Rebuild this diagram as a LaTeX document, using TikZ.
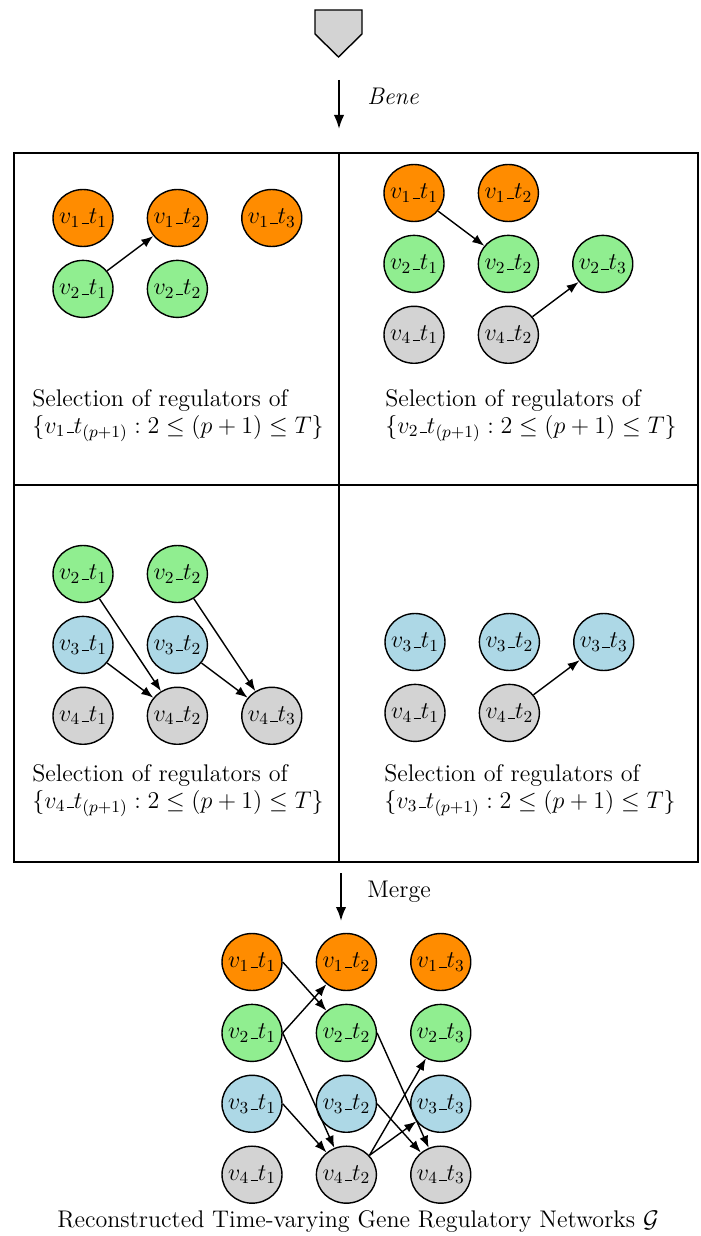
\RequirePackage{fix-cm}
\documentclass[tikz,border=0pt]{standalone}
\usetikzlibrary{arrows.meta, positioning, shapes.geometric}
\definecolor{vorange}{HTML}{FF8C00}
\definecolor{vgreen}{HTML}{90EE90}
\definecolor{vblue}{HTML}{ADD8E6}
\definecolor{vgray}{HTML}{D3D3D3}
\newcommand{\usc}{\kern.06em\vbox{\hrule width .3em}}
\newcommand{\vtlab}[2]{\makebox[0pt]{$v_{#1}\usc t_{#2}$}}

\begin{document}
\begin{tikzpicture}[x=0.02cm, y=-0.02cm, font=\fontsize{13.7}{15.3}\selectfont,
  node distance=0.25cm and 0.66cm,
  gene/.style={ellipse, draw, thick, inner sep=0pt,
    minimum width=1.2cm, minimum height=1.14cm},
  go/.style={gene, fill=vorange},
  gg/.style={gene, fill=vgreen},
  gb/.style={gene, fill=vblue},
  gy/.style={gene, fill=vgray},
  reg/.style={-{Latex[length=2.4mm, width=1.8mm]}, thick},
  flow/.style={-{Latex[length=2.8mm, width=2.1mm]}, line width=1.2pt},
  sel/.style={align=left, inner sep=0pt, anchor=north west}]
  \useasboundingbox (0,0) rectangle (700,1236);

  \draw[thick, fill=vgray] (315,10) -- (362,10) -- (362,34) -- (338.5,57)
    -- (315,34) -- cycle;
  \coordinate (b0) at (339,80);
  \coordinate (b1) at (339,129);
  \draw[flow] (b0) -- (b1);
  \node[anchor=base west, inner sep=0pt] (bene) at (367,105) {\textit{Bene}};

  \draw[thick] (14,153) rectangle (698,862);
  \draw[thick] (339,153) -- (339,862);
  \draw[thick] (14,485) -- (698,485);

  % v1
  \node[go] (a11) at (83,218) {\vtlab11};
  \node[go, right=of a11] (a12) {\vtlab12};
  \node[go, right=of a12] (a13) {\vtlab13};
  \node[gg, below=of a11] (a21) {\vtlab21};
  \node[gg, right=of a21] (a22) {\vtlab22};
  \draw[reg] (a21) -- (a12);
  \node[sel] (sa) at (32,389) {Selection of regulators of\\
    $\{v_1\usc t_{(p+1)} : 2 \le (p+1) \le T\}$};

  % v2
  \node[go] (b11) at (414,193) {\vtlab11};
  \node[go, right=of b11] (b12) {\vtlab12};
  \node[gg, below=of b11] (b21) {\vtlab21};
  \node[gg, right=of b21] (b22) {\vtlab22};
  \node[gg, right=of b22] (b23) {\vtlab23};
  \node[gy, below=of b21] (b41) {\vtlab41};
  \node[gy, right=of b41] (b42) {\vtlab42};
  \draw[reg] (b11) -- (b22);
  \draw[reg] (b42) -- (b23);
  \node[sel] (sb) at (385,389) {Selection of regulators of\\
    $\{v_2\usc t_{(p+1)} : 2 \le (p+1) \le T\}$};

  % v4
  \node[gg] (c21) at (83,574) {\vtlab21};
  \node[gg, right=of c21] (c22) {\vtlab22};
  \node[gb, below=of c21] (c31) {\vtlab31};
  \node[gb, right=of c31] (c32) {\vtlab32};
  \node[gy, below=of c31] (c41) {\vtlab41};
  \node[gy, right=of c41] (c42) {\vtlab42};
  \node[gy, right=of c42] (c43) {\vtlab43};
  \draw[reg] (c21) -- (c42);
  \draw[reg] (c31) -- (c42);
  \draw[reg] (c22) -- (c43);
  \draw[reg] (c32) -- (c43);
  \node[sel] (sc) at (32,764) {Selection of regulators of\\
    $\{v_4\usc t_{(p+1)} : 2 \le (p+1) \le T\}$};

  % v3
  \node[gb] (d31) at (415,642) {\vtlab31};
  \node[gb, right=of d31] (d32) {\vtlab32};
  \node[gb, right=of d32] (d33) {\vtlab33};
  \node[gy, below=of d31] (d41) {\vtlab41};
  \node[gy, right=of d41] (d42) {\vtlab42};
  \draw[reg] (d42) -- (d33);
  \node[sel] (sd) at (384,764) {Selection of regulators of\\
    $\{v_3\usc t_{(p+1)} : 2 \le (p+1) \le T\}$};

  \coordinate (m0) at (341,873);
  \coordinate (m1) at (341,921);
  \draw[flow] (m0) -- (m1);
  \node[anchor=base west, inner sep=0pt] (merge) at (367,897) {Merge};

  % merged network
  \node[go] (m11) at (252,962) {\vtlab11};
  \node[go, right=of m11] (m12) {\vtlab12};
  \node[go, right=of m12] (m13) {\vtlab13};
  \node[gg, below=of m11] (m21) {\vtlab21};
  \node[gg, right=of m21] (m22) {\vtlab22};
  \node[gg, right=of m22] (m23) {\vtlab23};
  \node[gb, below=of m21] (m31) {\vtlab31};
  \node[gb, right=of m31] (m32) {\vtlab32};
  \node[gb, right=of m32] (m33) {\vtlab33};
  \node[gy, below=of m31] (m41) {\vtlab41};
  \node[gy, right=of m41] (m42) {\vtlab42};
  \node[gy, right=of m42] (m43) {\vtlab43};
  \draw[reg] (m11.east) -- (m22);
  \draw[reg] (m21.east) -- (m12);
  \draw[reg] (m21.east) -- (m42);
  \draw[reg] (m31.east) -- (m42);
  \draw[reg] (m22.east) -- (m43);
  \draw[reg] (m32.east) -- (m43);
  \draw[reg] (m42.40) -- (m23);
  \draw[reg] (m42.40) -- (m33);

  \node[anchor=base, inner sep=0pt] (cap) at (358,1227)
    {Reconstructed Time-varying Gene Regulatory Networks $\mathcal{G}$};
\end{tikzpicture}
\end{document}
